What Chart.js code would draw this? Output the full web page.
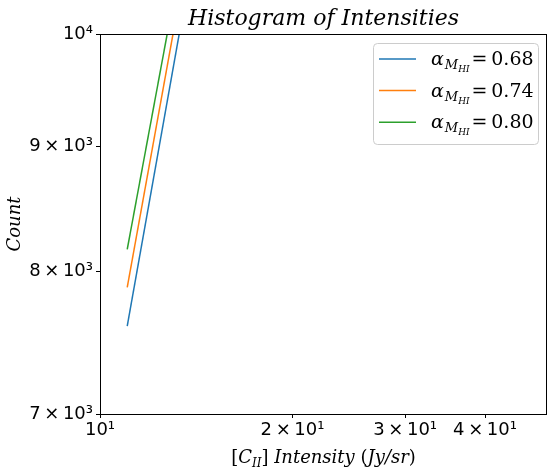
<!DOCTYPE html>
<html>
<head>
<meta charset="utf-8">
<script src="https://cdn.jsdelivr.net/npm/chart.js@4.4.1/dist/chart.umd.min.js"></script>
<style>
  html, body { margin: 0; padding: 0; background: #fff; }
</style>
</head>
<body>
<canvas id="chart" width="553" height="475"></canvas>
<script>
// bin centres and counts (second point lies above the frame)
const intensity = [11.03, 14]
const alphaValues = ['0.68', '0.74', '0.80']
const count068 = [7602, 10780]
const count074 = [7883, 11120]
const count080 = [8169, 11420]
const xTicks = [10, 20, 30, 40]
const yTicks = [7000, 8000, 9000, 10000]
const colors = ['#1f77b4', '#ff7f0e', '#2ca02c']

const SUP = { 0: '⁰', 1: '¹', 2: '²', 3: '³', 4: '⁴', 5: '⁵', 6: '⁶', 7: '⁷', 8: '⁸', 9: '⁹' }

function logLabel (v) {
  const e = Math.floor(Math.log10(v) + 1e-9)
  const m = Math.round(v / Math.pow(10, e))
  const pow = '10' + String(e).split('').map(c => SUP[c]).join('')
  return m === 1 ? pow : m + '\u2009×\u2009' + pow
}

const toPoints = ys => intensity.map((x, i) => ({ x, y: ys[i] }))
const series = [count068, count074, count080]

const serif = '"DejaVu Serif", serif'
const sans = '"DejaVu Sans", sans-serif'

const decorations = {
  id: 'decorations',
  afterDraw (chart) {
    const { ctx, chartArea: a } = chart
    ctx.save()

    // frame
    ctx.strokeStyle = '#000'
    ctx.lineWidth = 1
    ctx.strokeRect(Math.round(a.left) + 0.5, Math.round(a.top) + 0.5,
      Math.round(a.right - a.left) - 1, Math.round(a.bottom - a.top))

    ctx.fillStyle = '#000'
    ctx.textBaseline = 'alphabetic'

    // title
    ctx.font = 'italic 22px ' + serif
    ctx.textAlign = 'center'
    ctx.fillText('Histogram of Intensities', (a.left + a.right) / 2, a.top - 9)

    // y label
    ctx.save()
    ctx.translate(20, (a.top + a.bottom) / 2)
    ctx.rotate(-Math.PI / 2)
    ctx.font = 'italic 18px ' + serif
    ctx.fillText('Count', 0, 0)
    ctx.restore()

    // x label: [C_II] Intensity (Jy/sr)
    ctx.textAlign = 'left'
    const parts = [
      { t: '[', f: '18px ' + serif, dy: 0 },
      { t: 'C', f: 'italic 18px ' + serif, dy: 0 },
      { t: 'II', f: 'italic 12px ' + serif, dy: 4 },
      { t: ']', f: '18px ' + serif, dy: 0 },
      { t: ' Intensity ', f: 'italic 18px ' + serif, dy: 0 },
      { t: '(', f: '18px ' + serif, dy: 0 },
      { t: 'Jy/sr', f: 'italic 18px ' + serif, dy: 0 },
      { t: ')', f: '18px ' + serif, dy: 0 }
    ]
    let w = 0
    parts.forEach(p => { ctx.font = p.f; p.w = ctx.measureText(p.t).width; w += p.w })
    let x = (a.left + a.right) / 2 - w / 2
    const base = a.bottom + 49
    parts.forEach(p => { ctx.font = p.f; ctx.fillText(p.t, x, base + p.dy); x += p.w })

    // legend
    const bx = a.right - 174
    const by = a.top + 9
    const bw = 165
    const bh = 101
    ctx.beginPath()
    ctx.roundRect(bx + 0.5, by + 0.5, bw, bh, 4)
    ctx.fillStyle = 'rgba(255,255,255,0.8)'
    ctx.fill()
    ctx.strokeStyle = '#cccccc'
    ctx.lineWidth = 1
    ctx.stroke()
    alphaValues.forEach((val, i) => {
      const cy = by + 16 + i * 31.6
      ctx.strokeStyle = colors[i]
      ctx.lineWidth = 1.5
      ctx.beginPath()
      ctx.moveTo(bx + 6, cy)
      ctx.lineTo(bx + 43, cy)
      ctx.stroke()
      ctx.fillStyle = '#000'
      let tx = bx + 58
      const tb = cy + 6
      ctx.font = 'italic 19px ' + serif
      ctx.fillText('α', tx, tb)
      tx += ctx.measureText('α').width + 1
      ctx.font = 'italic 13px ' + serif
      ctx.fillText('M', tx, tb + 4)
      tx += ctx.measureText('M').width
      ctx.font = 'italic 9px ' + serif
      ctx.fillText('HI', tx, tb + 7)
      tx += ctx.measureText('HI').width + 2
      ctx.font = '19px ' + serif
      ctx.fillText('=\u20090.' + val.split('.')[1], tx, tb)
    })

    ctx.restore()
  }
}

// eslint-disable-next-line no-new
new Chart(document.getElementById('chart'), {
  type: 'line',
  data: {
    datasets: series.map((ys, i) => ({
      label: 'alpha = ' + alphaValues[i],
      data: toPoints(ys),
      borderColor: colors[i],
      backgroundColor: colors[i],
      borderWidth: 1.5,
      pointRadius: 0,
      tension: 0
    }))
  },
  options: {
    responsive: false,
    animation: false,
    devicePixelRatio: 1,
    layout: { padding: { top: 34, right: 6, left: 0, bottom: 0 } },
    plugins: {
      legend: { display: false },
      title: { display: false },
      tooltip: { enabled: false }
    },
    scales: {
      x: {
        type: 'logarithmic',
        min: 10,
        max: 50,
        afterBuildTicks: scale => { scale.ticks = xTicks.map(v => ({ value: v })) },
        afterFit: scale => { scale.height = 61 },
        ticks: {
          autoSkip: false,
          maxRotation: 0,
          padding: 2,
          color: '#000',
          font: { family: sans, size: 18 },
          callback: v => logLabel(v)
        },
        grid: { drawOnChartArea: false, tickLength: 4, color: '#000', lineWidth: 1 },
        border: { display: false }
      },
      y: {
        type: 'logarithmic',
        min: 7000,
        max: 10000,
        afterBuildTicks: scale => { scale.ticks = yTicks.map(v => ({ value: v })) },
        afterFit: scale => { scale.width = 100 },
        ticks: {
          autoSkip: false,
          padding: 3,
          color: '#000',
          font: { family: sans, size: 18 },
          callback: v => logLabel(v)
        },
        grid: { drawOnChartArea: false, tickLength: 4, color: '#000', lineWidth: 1 },
        border: { display: false }
      }
    }
  },
  plugins: [decorations]
})
</script>
</body>
</html>
